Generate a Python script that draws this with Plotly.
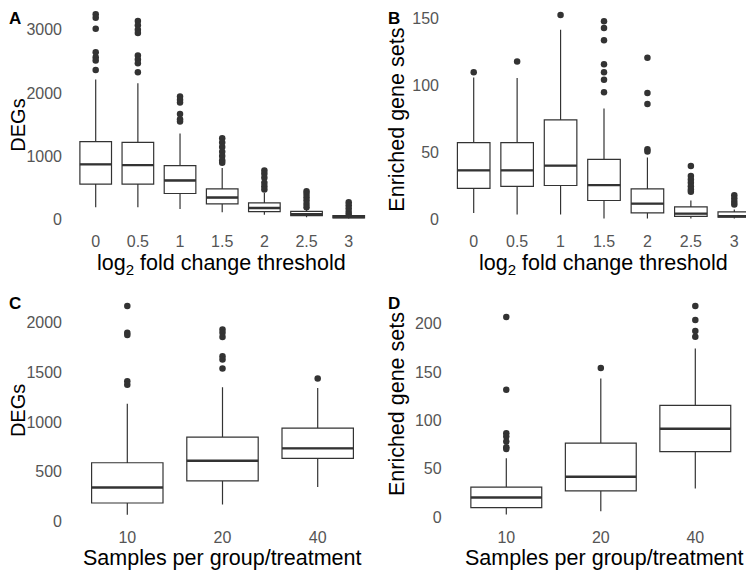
import plotly.graph_objects as go

# Panel A / B: log2 fold change threshold
lfc_labels = ["0", "0.5", "1", "1.5", "2", "2.5", "3"]

a_q1 = [561, 561, 413, 249, 127, 63, 26]
a_med = [873, 862, 619, 349, 185, 85, 42]
a_q3 = [1233, 1222, 852, 487, 265, 132, 63]
a_lo = [196, 196, 169, 116, 79, 37, 16]
a_hi = [2212, 2153, 1360, 815, 423, 212, 106]
a_out_x = [0] * 7 + [1] * 8 + [2] * 6 + [3] * 7 + [4] * 6 + [5] * 6 + [6] * 5
a_out_y = [3243, 3190, 3016, 2646, 2566, 2513, 2365,
           3138, 3069, 3000, 2947, 2593, 2529, 2471, 2328,
           1947, 1894, 1852, 1667, 1587, 1550,
           1286, 1217, 1148, 1074, 1005, 937, 900,
           778, 725, 661, 582, 529, 476,
           450, 407, 354, 302, 249, 196,
           275, 228, 175, 122, 79]

b_q1 = [23.3, 24.8, 25.5, 14.3, 5.0, 2.5, 1.8]
b_med = [36.8, 36.8, 40.3, 25.8, 12.0, 4.5, 2.5]
b_q3 = [57.5, 57.5, 74.5, 45.0, 23.0, 9.5, 5.8]
b_lo = [5.0, 3.8, 3.8, 0.8, 0.8, 0.8, 0.8]
b_hi = [106, 105.8, 141.8, 83, 46.3, 14.3, 7.5]
b_out_x = [0, 1, 2] + [3] * 7 + [4] * 5 + [5] * 7 + [6] * 4
b_out_y = [110, 118, 152.8,
           148, 143, 133.8, 116, 110, 104.5, 95,
           120.8, 94.5, 86.3, 52.5, 50.8,
           40, 32.5, 30, 27.5, 25, 22.5, 20.8,
           18.3, 15.8, 13.3, 11.3]

# Panel C / D: samples per group
n_labels = ["10", "20", "40"]

c_q1 = [185, 408, 634]
c_med = [341, 610, 735]
c_q3 = [590, 847, 938]
c_lo = [67, 169, 347]
c_hi = [1184, 1349, 1342]
c_out_x = [0] * 5 + [1] * 6 + [2]
c_out_y = [2169, 1899, 1875, 1410, 1376,
           1932, 1899, 1855, 1663, 1629, 1538,
           1437]

d_q1 = [9.7, 27.0, 67.6]
d_med = [20.1, 41.6, 91.2]
d_q3 = [30.9, 76.3, 115.4]
d_lo = [2.4, 5.9, 29.5]
d_hi = [60.7, 143.2, 174.4]
d_out_x = [0] * 7 + [1] + [2] * 4
d_out_y = [206.9, 131.7, 86.7, 83.2, 78, 72.1, 70.4,
           154.2,
           218.4, 203.8, 192.4, 186.5]

DARK = "#333333"
TICKGREY = "#555555"
BOXW = 0.75
FONT = "Liberation Sans, Arial, sans-serif"

# the page has the browser's 8px body margin and is shot as a whole page,
# so positions below are in screenshot px and get mapped back to figure px
OFF = 8
VIEW_W, VIEW_H = 754, 572
W, H = VIEW_W - OFF, VIEW_H - OFF
SY = (H + 2 * OFF) / VIEW_H

panels = [
    dict(ax="", labels=lfc_labels, q1=a_q1, med=a_med, q3=a_q3, lo=a_lo, hi=a_hi,
         ox=a_out_x, oy=a_out_y, tickv=[0, 1000, 2000, 3000],
         ycal=((0, 218.5), (3000, 29.5)), xcal=((0, 95.7), (6, 348.7)),
         xb=(70, 374), yb=(8, 227), xstand=2,
         ytitle="DEGs", ytsize=20, ytpos=(18, 125),
         xtitle="log<sub>2</sub> fold change threshold", xtpos=(221, 263),
         tag="A", tagpos=(1, 1)),
    dict(ax="2", labels=lfc_labels, q1=b_q1, med=b_med, q3=b_q3, lo=b_lo, hi=b_hi,
         ox=b_out_x, oy=b_out_y, tickv=[0, 50, 100, 150],
         ycal=((0, 218.5), (150, 18.5)), xcal=((0, 473.7), (6, 734.3)),
         xb=(447, 754), yb=(8, 227), xstand=2,
         ytitle="Enriched gene sets", ytsize=21.5, ytpos=(397, 119),
         xtitle="log<sub>2</sub> fold change threshold", xtpos=(603, 263),
         tag="B", tagpos=(387, 1)),
    dict(ax="3", labels=n_labels, q1=c_q1, med=c_med, q3=c_q3, lo=c_lo, hi=c_hi,
         ox=c_out_x, oy=c_out_y, tickv=[0, 500, 1000, 1500, 2000],
         ycal=((0, 518.7), (2000, 321)), xcal=((0, 127.3), (2, 317.7)),
         xb=(70, 375), yb=(294, 522.5), xstand=1,
         ytitle="DEGs", ytsize=20, ytpos=(18, 409),
         xtitle="Samples per group/treatment", xtpos=(222, 555),
         tag="C", tagpos=(1, 291)),
    dict(ax="4", labels=n_labels, q1=d_q1, med=d_med, q3=d_q3, lo=d_lo, hi=d_hi,
         ox=d_out_x, oy=d_out_y, tickv=[0, 50, 100, 150, 200],
         ycal=((0, 514.3), (200, 322)), xcal=((0, 506.3), (2, 695.3)),
         xb=(449.6, 752), yb=(294, 522.4), xstand=1,
         ytitle="Enriched gene sets", ytsize=21.5, ytpos=(397, 402),
         xtitle="Samples per group/treatment", xtpos=(604, 555),
         tag="D", tagpos=(387, 291)),
]


def px_to_val(cal, p):
    (v0, p0), (v1, p1) = cal
    return v0 + (p - p0) * (v1 - v0) / (p1 - p0)


def fx(p):
    return min(max((p - OFF) / W, 0), 1)


def fy(p):
    return min(max(1 - (p * SY - OFF) / H, 0), 1)


fig = go.Figure()
annotations = []
layout = {}

for p in panels:
    xa, ya = "x" + p["ax"], "y" + p["ax"]
    pos = list(range(len(p["labels"])))
    fig.add_trace(go.Box(
        x=pos, q1=p["q1"], median=p["med"], q3=p["q3"],
        lowerfence=p["lo"], upperfence=p["hi"],
        width=BOXW, whiskerwidth=0, boxpoints=False,
        fillcolor="white", line=dict(color=DARK, width=1.2),
        xaxis=xa, yaxis=ya, showlegend=False, hoverinfo="skip"))
    # thicker median bars as in ggplot
    mx, my = [], []
    for i, m in zip(pos, p["med"]):
        mx += [i - BOXW / 2, i + BOXW / 2, None]
        my += [m, m, None]
    fig.add_trace(go.Scatter(x=mx, y=my, mode="lines", line=dict(color=DARK, width=2.4),
                             xaxis=xa, yaxis=ya, showlegend=False, hoverinfo="skip"))
    fig.add_trace(go.Scatter(x=p["ox"], y=p["oy"], mode="markers",
                             marker=dict(color=DARK, size=6.5),
                             xaxis=xa, yaxis=ya, showlegend=False, hoverinfo="skip"))

    key = p["ax"]
    xl, xr = p["xb"]
    yt, yb = p["yb"]
    layout["xaxis" + key] = dict(
        domain=[fx(xl), fx(xr)], range=[px_to_val(p["xcal"], xl), px_to_val(p["xcal"], xr)],
        anchor=ya, tickmode="array", tickvals=pos, ticktext=p["labels"],
        showgrid=False, zeroline=False, showline=False, ticks="",
        tickfont=dict(size=16, color=TICKGREY), ticklabelstandoff=p["xstand"])
    layout["yaxis" + key] = dict(
        domain=[fy(yb), fy(yt)], range=[px_to_val(p["ycal"], yb), px_to_val(p["ycal"], yt)],
        anchor=xa, tickmode="array", tickvals=p["tickv"],
        showgrid=False, zeroline=False, showline=False, ticks="",
        tickfont=dict(size=16, color=TICKGREY), ticklabelstandoff=7)
    annotations.append(dict(
        text=p["ytitle"], x=fx(p["ytpos"][0]), y=fy(p["ytpos"][1]),
        xref="paper", yref="paper", xanchor="center", yanchor="middle", textangle=-90,
        showarrow=False, font=dict(size=p["ytsize"], color="black")))
    annotations.append(dict(
        text=p["xtitle"], x=fx(p["xtpos"][0]), y=fy(p["xtpos"][1]),
        xref="paper", yref="paper", xanchor="center", yanchor="middle",
        showarrow=False, font=dict(size=21.5, color="black")))
    annotations.append(dict(
        text="<b>" + p["tag"] + "</b>", x=fx(p["tagpos"][0]), y=fy(p["tagpos"][1]),
        xref="paper", yref="paper", xanchor="left", yanchor="top", showarrow=False,
        borderpad=0, font=dict(size=17, color="black")))

fig.update_layout(
    width=W, height=H, margin=dict(l=0, r=0, t=0, b=0),
    paper_bgcolor="white", plot_bgcolor="white",
    font=dict(family=FONT),
    annotations=annotations, **layout)

fig.write_html("out.html")
